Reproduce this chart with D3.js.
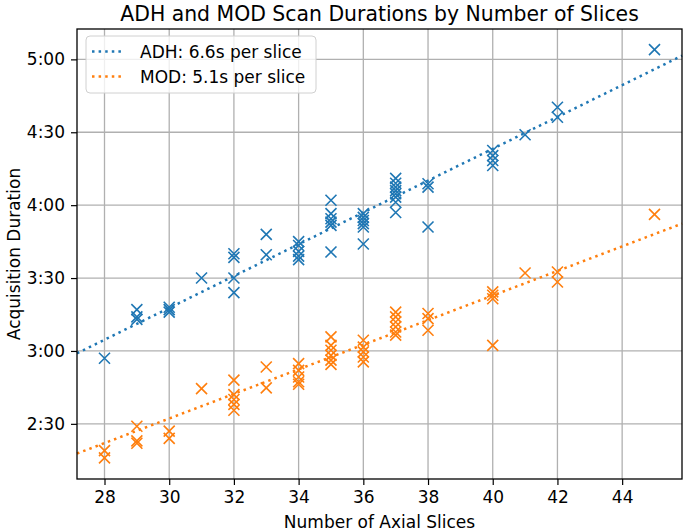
<!DOCTYPE html>
<html>
<head>
<meta charset="utf-8">
<script src="https://cdn.jsdelivr.net/npm/d3@7"></script>
<style>
  body { margin: 0; background: #fff; }
  text { font-family: "DejaVu Sans", sans-serif; }
</style>
</head>
<body>
<svg id="chart" width="685" height="532"></svg>
<script>
// slices per scan, durations in seconds
var adhSlices = [28, 29, 29, 29, 30, 30, 30, 31, 32, 32, 32, 32, 33, 33,
                 34, 34, 34, 34, 34, 35, 35, 35, 35, 35, 35,
                 36, 36, 36, 36, 36, 36, 37, 37, 37, 37, 37, 37, 37, 37,
                 38, 38, 38, 40, 40, 40, 40, 41, 42, 42, 45];
var adhSeconds = [177, 197, 194, 193, 198, 197, 196, 210, 220, 218.5, 210, 204, 228, 219.6,
                  225, 223.4, 221, 219, 217.6, 242, 236.5, 234.4, 233, 231.7, 220.7,
                  236.5, 235, 233.7, 232.4, 231, 224, 251, 249, 247.4, 246, 244.7, 243.3, 241.2, 237,
                  248.8, 247.4, 231, 262.5, 260.4, 258.4, 256.3, 269, 280.3, 276.2, 304];

var modSlices = [28, 28, 29, 29, 29, 30, 30, 31, 32, 32, 32, 32, 32, 33, 33,
                 34, 34, 34, 34, 34, 35, 35, 35, 35, 35, 35,
                 36, 36, 36, 36, 36, 37, 37, 37, 37, 37, 37,
                 38, 38, 38, 40, 40, 40, 40, 41, 42, 42, 45];
var modSeconds = [139, 136, 149, 143, 142, 147, 144, 164.5, 168, 162, 160, 158, 155.6, 173.4, 164.8,
                  174.8, 172, 169.3, 167.3, 166.3, 185.8, 182.3, 180.3, 178.2, 176.2, 174.5,
                  184.4, 181.6, 179.6, 177.5, 175.5, 196, 194, 191.9, 189.9, 187.8, 186.5,
                  195.4, 193.3, 188.5, 204.3, 202.9, 201.5, 182.3, 212.1, 212.5, 208.4, 236.2];

var seriesNames = ["ADH: 6.6s per slice", "MOD: 5.1s per slice"];
var seriesColors = ["#1f77b4", "#ff7f0e"];
var trendSlope = [6.55, 5.06];
var trendIntercept = [1.2, 0.4];

var xTicks = [28, 30, 32, 34, 36, 38, 40, 42, 44];
var yTicks = [150, 180, 210, 240, 270, 300];
var yTickLabels = ["2:30", "3:00", "3:30", "4:00", "4:30", "5:00"];

var plotL = 77, plotR = 682, plotT = 29, plotB = 479;

var svg = d3.select("#chart");

var x = d3.scaleLinear().domain([27.15, 45.85]).range([plotL, plotR]);
var y = d3.scaleLinear().domain([127.3, 312.5]).range([plotB, plotT]);

// grid
svg.append("g").selectAll("line")
    .data(xTicks)
  .enter().append("line")
    .attr("x1", function(d) { return x(d); })
    .attr("x2", function(d) { return x(d); })
    .attr("y1", plotT).attr("y2", plotB)
    .attr("stroke", "#b0b0b0").attr("stroke-width", 1.3);
svg.append("g").selectAll("line")
    .data(yTicks)
  .enter().append("line")
    .attr("y1", function(d) { return y(d); })
    .attr("y2", function(d) { return y(d); })
    .attr("x1", plotL).attr("x2", plotR)
    .attr("stroke", "#b0b0b0").attr("stroke-width", 1.3);

var plot = svg.append("g");

var series = [
    {slices: adhSlices, secs: adhSeconds},
    {slices: modSlices, secs: modSeconds}
];

var s = 5.5;
series.forEach(function(ser, k) {
    var pts = ser.slices.map(function(v, i) { return [v, ser.secs[i]]; });
    plot.append("g").selectAll("path")
        .data(pts)
      .enter().append("path")
        .attr("d", function(d) {
            var cx = x(d[0]), cy = y(d[1]);
            return "M" + (cx - s) + "," + (cy - s) + "L" + (cx + s) + "," + (cy + s) +
                   "M" + (cx - s) + "," + (cy + s) + "L" + (cx + s) + "," + (cy - s);
        })
        .attr("stroke", seriesColors[k])
        .attr("stroke-width", 1.6)
        .attr("fill", "none");
});

// fitted lines across the whole x range
var dom = x.domain();
series.forEach(function(ser, k) {
    plot.append("line")
        .attr("x1", x(dom[0])).attr("y1", y(trendIntercept[k] + trendSlope[k] * dom[0]))
        .attr("x2", x(dom[1])).attr("y2", y(trendIntercept[k] + trendSlope[k] * dom[1]))
        .attr("stroke", seriesColors[k])
        .attr("stroke-width", 2.5)
        .attr("stroke-dasharray", "2.5,4.1");
});

// axes
var xAxis = d3.axisBottom(x).tickValues(xTicks).tickSize(6).tickPadding(6);
var yAxis = d3.axisLeft(y).tickValues(yTicks).tickSize(6).tickPadding(6)
    .tickFormat(function(d, i) { return yTickLabels[i]; });

var gx = svg.append("g").attr("transform", "translate(0," + plotB + ")").call(xAxis);
var gy = svg.append("g").attr("transform", "translate(" + plotL + ",0)").call(yAxis);
[gx, gy].forEach(function(g) {
    g.select(".domain").remove();
    g.selectAll(".tick line").attr("stroke", "#000").attr("stroke-width", 1.2);
    g.selectAll(".tick text").attr("fill", "#000").style("font-size", "17px")
        .style("font-family", "'DejaVu Sans', sans-serif");
});

svg.append("rect")
    .attr("x", plotL).attr("y", plotT)
    .attr("width", plotR - plotL).attr("height", plotB - plotT)
    .attr("fill", "none").attr("stroke", "#000").attr("stroke-width", 1.3);

// labels
svg.append("text")
    .attr("x", (plotL + plotR) / 2).attr("y", 21)
    .attr("text-anchor", "middle")
    .style("font-size", "20.4px")
    .text("ADH and MOD Scan Durations by Number of Slices");

svg.append("text")
    .attr("x", (plotL + plotR) / 2).attr("y", 528)
    .attr("text-anchor", "middle")
    .style("font-size", "17px")
    .text("Number of Axial Slices");

svg.append("text")
    .attr("transform", "translate(20," + ((plotT + plotB) / 2) + ") rotate(-90)")
    .attr("text-anchor", "middle")
    .style("font-size", "17px")
    .text("Acquisition Duration");

// legend
var lg = svg.append("g");
lg.append("rect")
    .attr("x", 86).attr("y", 36).attr("width", 230).attr("height", 57)
    .attr("rx", 4)
    .attr("fill", "#fff").attr("fill-opacity", 0.8)
    .attr("stroke", "#d0d0d0").attr("stroke-width", 1);
seriesNames.forEach(function(name, k) {
    var ly = 51.5 + k * 25;
    lg.append("line")
        .attr("x1", 92).attr("x2", 124)
        .attr("y1", ly).attr("y2", ly)
        .attr("stroke", seriesColors[k])
        .attr("stroke-width", 2.5)
        .attr("stroke-dasharray", "2.5,4.1");
    lg.append("text")
        .attr("x", 140).attr("y", ly + 6)
        .style("font-size", "17px")
        .text(name);
});
</script>
</body>
</html>
